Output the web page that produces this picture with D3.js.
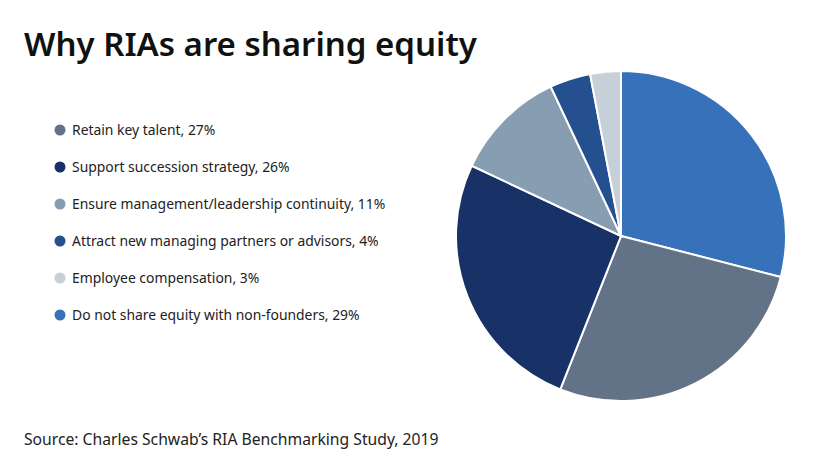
<!DOCTYPE html>
<html>
<head>
<meta charset="utf-8">
<script src="https://cdn.jsdelivr.net/npm/d3@7"></script>
<style>
  body { margin: 0; background: #fff; }
  text { font-family: "Noto Sans", "Lato", sans-serif; }
</style>
</head>
<body>
<svg id="chart" width="840" height="472"></svg>
<script>
// data, in legend order
const labels = [
  'Retain key talent',
  'Support succession strategy',
  'Ensure management/leadership continuity',
  'Attract new managing partners or advisors',
  'Employee compensation',
  'Do not share equity with non-founders'
];
const values = [27, 26, 11, 4, 3, 29];
const colors = ['#637387', '#183166', '#879eb2', '#25508f', '#c5d0d8', '#3671b9'];

// the pie starts at 12 o'clock with the last slice
const pieOrder = [5, 0, 1, 2, 3, 4];

const svg = d3.select('#chart');

svg.append('text')
  .attr('x', 24).attr('y', 56)
  .attr('font-size', 33).attr('font-weight', 600)
  .attr('fill', '#111')
  .text('Why RIAs are sharing equity');

// legend
const legend = svg.append('g');
const rowY = d3.scalePoint().domain(d3.range(labels.length)).range([130, 315]);
labels.forEach((l, i) => {
  legend.append('circle')
    .attr('cx', 60).attr('cy', rowY(i)).attr('r', 5.5)
    .attr('fill', colors[i]);
  legend.append('text')
    .attr('x', 72).attr('y', rowY(i) + 5)
    .attr('font-size', 13.9).attr('fill', '#222')
    .text(l + ', ' + values[i] + '%');
});

// pie
const pie = d3.pie().sort(null).value(i => values[i]);
const arc = d3.arc().innerRadius(0).outerRadius(165);
svg.append('g')
  .attr('transform', 'translate(621,236)')
  .selectAll('path')
  .data(pie(pieOrder))
  .join('path')
  .attr('d', arc)
  .attr('fill', d => colors[d.data])
  .attr('stroke', '#fff')
  .attr('stroke-width', 2);

svg.append('text')
  .attr('x', 24).attr('y', 445)
  .attr('font-size', 15.7).attr('fill', '#222')
  .text('Source: Charles Schwab’s RIA Benchmarking Study, 2019');
</script>
</body>
</html>
